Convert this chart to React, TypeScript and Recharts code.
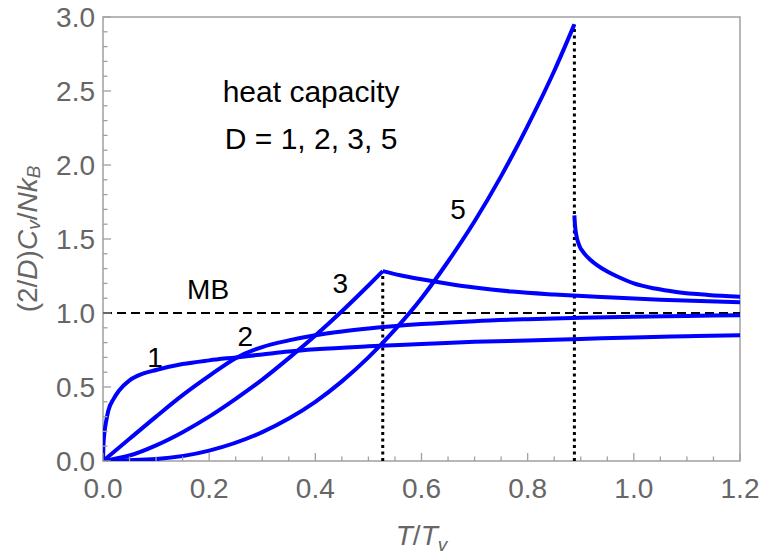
import React from 'react';
import { LineChart, Line, XAxis, YAxis, ReferenceLine, ReferenceArea, ReferenceDot } from 'recharts';

// D = 1
const d1T = [0, 0.001, 0.003, 0.006, 0.01, 0.02, 0.03, 0.05, 0.075, 0.1, 0.15, 0.2, 0.25, 0.3, 0.35, 0.4, 0.5, 0.6, 0.7, 0.8, 0.9, 1.0, 1.1, 1.2];
const d1C = [0, 0.12, 0.2, 0.27, 0.34, 0.42, 0.475, 0.545, 0.59, 0.615, 0.655, 0.68, 0.7, 0.72, 0.74, 0.755, 0.775, 0.79, 0.805, 0.815, 0.825, 0.835, 0.843, 0.85];

// D = 2
const d2T = [0, 0.05, 0.1, 0.15, 0.2, 0.25, 0.3, 0.35, 0.4, 0.45, 0.5, 0.6, 0.7, 0.8, 0.9, 1.0, 1.1, 1.2];
const d2C = [0, 0.15, 0.3, 0.445, 0.575, 0.695, 0.77, 0.815, 0.85, 0.875, 0.895, 0.925, 0.945, 0.958, 0.968, 0.975, 0.98, 0.985];

// D = 3, below / above the cusp
const d3LowT = [0, 0.05, 0.1, 0.15, 0.2, 0.25, 0.3, 0.35, 0.4, 0.45, 0.5, 0.527];
const d3LowC = [0, 0.037, 0.106, 0.195, 0.3, 0.42, 0.55, 0.695, 0.848, 1.012, 1.186, 1.283];
const d3HighT = [0.527, 0.56, 0.6, 0.65, 0.7, 0.77, 0.85, 0.95, 1.05, 1.2];
const d3HighC = [1.283, 1.255, 1.228, 1.198, 1.172, 1.145, 1.125, 1.106, 1.09, 1.072];

// D = 5, below / above the jump
const d5LowT = [0, 0.1, 0.2, 0.3, 0.35, 0.4, 0.45, 0.5, 0.55, 0.6, 0.65, 0.7, 0.75, 0.8, 0.85, 0.888];
const d5LowC = [0, 0.013, 0.07, 0.195, 0.287, 0.4, 0.538, 0.7, 0.888, 1.1, 1.348, 1.62, 1.925, 2.265, 2.635, 2.95];
const d5HighT = [0.888, 0.889, 0.892, 0.898, 0.905, 0.918, 0.93, 0.95, 0.97, 1.0, 1.04, 1.08, 1.14, 1.2];
const d5HighC = [1.66, 1.6, 1.52, 1.45, 1.41, 1.36, 1.325, 1.28, 1.245, 1.2, 1.165, 1.142, 1.122, 1.11];

const tc3 = 0.527;
const peak3 = 1.283;
const tc5 = 0.888;
const peak5 = 2.95;

const xMajor = [0, 0.2, 0.4, 0.6, 0.8, 1.0, 1.2];
const yMajor = [0, 0.5, 1.0, 1.5, 2.0, 2.5, 3.0];
const xTicks = Array.from({ length: 25 }, (_, i) => +(i * 0.05).toFixed(2));
const yTicks = Array.from({ length: 31 }, (_, i) => +(i * 0.1).toFixed(1));

const notes = [
  { x: 0.392, y: 2.5, text: 'heat capacity', size: 30 },
  { x: 0.392, y: 2.18, text: 'D = 1, 2, 3, 5', size: 30 },
  { x: 0.198, y: 1.162, text: 'MB', size: 28 },
  { x: 0.098, y: 0.703, text: '1', size: 28 },
  { x: 0.268, y: 0.845, text: '2', size: 28 },
  { x: 0.447, y: 1.203, text: '3', size: 28 },
  { x: 0.669, y: 1.703, text: '5', size: 28 },
];

const FONT = '"Liberation Sans", Arial, sans-serif';
const BLUE = '#0000ff';
const FRAME = '#a0a0a0';
const TICK_TEXT = '#666666';

const pts = (xs: number[], ys: number[]) => xs.map((x, i) => ({ x, y: ys[i] }));
const isMajor = (v: number, list: number[]) => list.some((m) => Math.abs(m - v) < 1e-6);

const XTick = (props: any) => {
  const { x, y, payload } = props;
  const major = isMajor(payload.value, xMajor);
  return (
    <g>
      <line x1={x} x2={x} y1={y} y2={y - (major ? 8 : 4.5)} stroke={FRAME} strokeWidth={1.3} />
      {major && (
        <text x={x} y={y + 27} textAnchor="middle" dominantBaseline="central" fontSize={28} fill={TICK_TEXT} fontFamily={FONT}>
          {payload.value.toFixed(1)}
        </text>
      )}
    </g>
  );
};

const YTick = (props: any) => {
  const { x, y, payload } = props;
  const major = isMajor(payload.value, yMajor);
  return (
    <g>
      <line x1={x} x2={x + (major ? 8 : 4.5)} y1={y} y2={y} stroke={FRAME} strokeWidth={1.3} />
      {major && (
        <text x={x - 8} y={y} textAnchor="end" dominantBaseline="central" fontSize={28} fill={TICK_TEXT} fontFamily={FONT}>
          {payload.value.toFixed(1)}
        </text>
      )}
    </g>
  );
};

const XTitle = (props: any) => {
  const { viewBox } = props;
  const cx = viewBox.x + viewBox.width / 2;
  const by = viewBox.y + 84;
  return (
    <text x={cx} y={by} textAnchor="middle" fontSize={28} fill={TICK_TEXT} fontFamily={FONT}>
      <tspan fontStyle="italic">T</tspan>/<tspan fontStyle="italic">T</tspan>
      <tspan fontSize={19} dy={6} fontStyle="italic">v</tspan>
    </text>
  );
};

const YTitle = (props: any) => {
  const { viewBox } = props;
  const cx = viewBox.x + 27;
  const cy = viewBox.y + viewBox.height / 2;
  return (
    <text x={cx} y={cy} transform={`rotate(-90, ${cx}, ${cy})`} textAnchor="middle" dominantBaseline="central" fontSize={28} fill={TICK_TEXT} fontFamily={FONT}>
      (2/<tspan fontStyle="italic">D</tspan>)<tspan fontStyle="italic">C</tspan>
      <tspan fontSize={19} dy={6} fontStyle="italic">v</tspan>
      <tspan dy={-6}>/</tspan>
      <tspan fontStyle="italic">Nk</tspan>
      <tspan fontSize={19} dy={6} fontStyle="italic">B</tspan>
    </text>
  );
};

const lineProps = {
  type: 'monotone' as const,
  dataKey: 'y',
  stroke: BLUE,
  strokeWidth: 4,
  dot: false,
  activeDot: false,
  isAnimationActive: false,
};

export default function App() {
  return (
    <div style={{ position: 'absolute', left: 0, top: 0, width: 761, height: 554 }}>
      <LineChart width={761} height={554} margin={{ top: 17, right: 21, left: 0, bottom: 0 }} style={{ overflow: 'visible' }}>
        <XAxis
          dataKey="x"
          type="number"
          domain={[0, 1.2]}
          ticks={xTicks}
          interval={0}
          allowDataOverflow
          axisLine={false}
          tickLine={false}
          tickSize={0}
          tickMargin={0}
          height={93}
          tick={<XTick />}
          label={<XTitle />}
        />
        <YAxis
          type="number"
          domain={[0, 3]}
          ticks={yTicks}
          interval={0}
          allowDataOverflow
          axisLine={false}
          tickLine={false}
          tickSize={0}
          tickMargin={0}
          width={103}
          tick={<YTick />}
          label={<YTitle />}
        />
        <ReferenceArea x1={0} x2={1.2} y1={0} y2={3} fill="none" stroke={FRAME} strokeWidth={1.5} />
        <ReferenceLine y={1} stroke="#000" strokeWidth={2.2} strokeDasharray="9 5" />
        <ReferenceLine segment={[{ x: tc3, y: 0 }, { x: tc3, y: peak3 }]} stroke="#000" strokeWidth={3} strokeDasharray="3 3.5" />
        <ReferenceLine segment={[{ x: tc5, y: 0 }, { x: tc5, y: peak5 }]} stroke="#000" strokeWidth={3} strokeDasharray="3 3.5" />
        <Line {...lineProps} data={pts(d1T, d1C)} />
        <Line {...lineProps} data={pts(d2T, d2C)} />
        <Line {...lineProps} data={pts(d3LowT, d3LowC)} />
        <Line {...lineProps} data={pts(d3HighT, d3HighC)} />
        <Line {...lineProps} data={pts(d5LowT, d5LowC)} />
        <Line {...lineProps} data={pts(d5HighT, d5HighC)} />
        {notes.map((n) => (
          <ReferenceDot
            key={n.text}
            x={n.x}
            y={n.y}
            r={0}
            fill="none"
            stroke="none"
            label={{ value: n.text, position: 'center', fontSize: n.size, fill: '#000', fontFamily: FONT }}
          />
        ))}
      </LineChart>
    </div>
  );
}
